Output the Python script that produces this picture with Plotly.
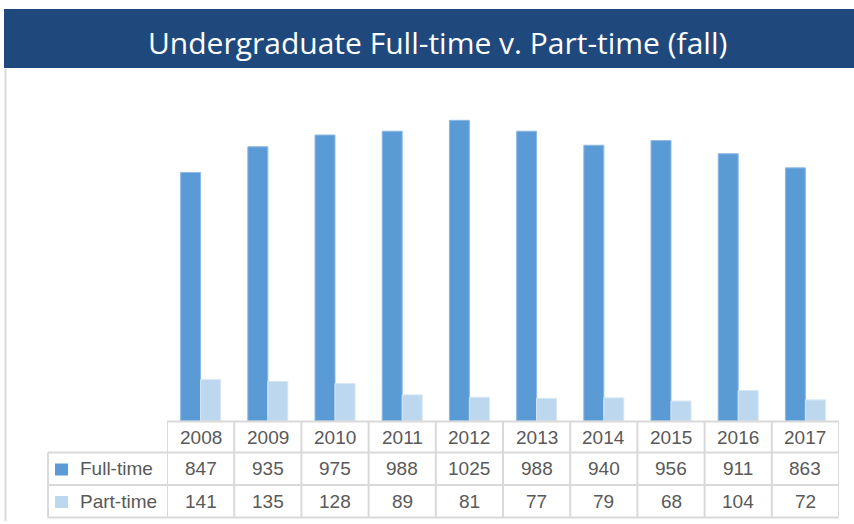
import plotly.graph_objects as go

years = ["2008", "2009", "2010", "2011", "2012", "2013", "2014", "2015", "2016", "2017"]
full_time = [847, 935, 975, 988, 1025, 988, 940, 956, 911, 863]
part_time = [141, 135, 128, 89, 81, 77, 79, 68, 104, 72]
series_names = ["Full-time", "Part-time"]
title_text = "Undergraduate Full-time v. Part-time (fall)"

W, H = 854, 524
ML, MR, MT, MB = 167, 15, 69, 103
PW, PH = W - ML - MR, H - MT - MB

def px(xp):
    return (xp - ML) / PW

def py(yp):
    return (H - MB - yp) / PH

c_full = "#5B9BD5"
c_part = "#BDD7EE"
grid_c = "#D9D9D9"
txt_c = "#595959"
font_fam = "Liberation Sans"

fig = go.Figure()
fig.add_trace(go.Bar(x=years, y=full_time, name=series_names[0], marker=dict(color=c_full, line=dict(color="#8DB9E3", width=1))))
fig.add_trace(go.Bar(x=years, y=part_time, name=series_names[1], marker=dict(color=c_part, line=dict(color="#D6E6F5", width=1))))

shapes = []
ann = []
shapes.append(dict(type="rect", xref="paper", yref="paper", x0=px(4), x1=px(854), y0=py(68), y1=py(9),
                   fillcolor="#1F497D", line=dict(width=0), layer="below"))
ann.append(dict(text=title_text, xref="paper", yref="paper", x=px(437), y=py(42), showarrow=False,
                font=dict(color="white", size=30, family="Open Sans"), xanchor="center", yanchor="middle"))
shapes.append(dict(type="line", xref="paper", yref="paper", x0=px(5.5), x1=px(5.5), y0=py(69), y1=py(521),
                   line=dict(color=grid_c, width=2)))

n = len(years)
row_y = [421.5, 452.5, 485, 517.5]
lw = 2
shapes.append(dict(type="line", xref="x", yref="paper", x0=-0.5, x1=n - 0.5, y0=py(row_y[0]), y1=py(row_y[0]), line=dict(color=grid_c, width=lw)))
for r in row_y[1:]:
    shapes.append(dict(type="line", xref="paper", yref="paper", x0=px(48), x1=px(ML), y0=py(r), y1=py(r), line=dict(color=grid_c, width=lw)))
    shapes.append(dict(type="line", xref="x", yref="paper", x0=-0.5, x1=n - 0.5, y0=py(r), y1=py(r), line=dict(color=grid_c, width=lw)))
for i in range(n + 1):
    shapes.append(dict(type="line", xref="x", yref="paper", x0=i - 0.5, x1=i - 0.5, y0=py(row_y[0]), y1=py(row_y[3]), line=dict(color=grid_c, width=lw)))
shapes.append(dict(type="line", xref="paper", yref="paper", x0=px(48), x1=px(48), y0=py(row_y[1]), y1=py(row_y[3]), line=dict(color=grid_c, width=lw)))

for cy, col in [(469.5, c_full), (502, c_part)]:
    shapes.append(dict(type="rect", xref="paper", yref="paper", x0=px(55), x1=px(68), y0=py(cy + 6), y1=py(cy - 6),
                       fillcolor=col, line=dict(width=0)))
for cy, name in [(469, series_names[0]), (501, series_names[1])]:
    ann.append(dict(text=name, xref="paper", yref="paper", x=px(78), y=py(cy), showarrow=False, xanchor="left", yanchor="middle",
                    font=dict(color=txt_c, size=19, family=font_fam)))

fnt = dict(color=txt_c, size=19, family=font_fam)
for i, yr in enumerate(years):
    ann.append(dict(text=yr, xref="x", yref="paper", x=i, y=py(437.5), showarrow=False, yanchor="middle", font=fnt))
    ann.append(dict(text=str(full_time[i]), xref="x", yref="paper", x=i, y=py(469), showarrow=False, yanchor="middle", font=fnt))
    ann.append(dict(text=str(part_time[i]), xref="x", yref="paper", x=i, y=py(501), showarrow=False, yanchor="middle", font=fnt))

fig.update_layout(
    width=W, height=H, margin=dict(l=ML, r=MR, t=MT, b=MB),
    paper_bgcolor="white", plot_bgcolor="white",
    barmode="group", bargap=0.405, bargroupgap=0,
    showlegend=False,
    xaxis=dict(type="category", range=[-0.5, n - 0.5], showticklabels=False, showgrid=False, zeroline=False, showline=False, ticks=""),
    yaxis=dict(range=[0, 1200], showticklabels=False, showgrid=False, zeroline=False, showline=False, fixedrange=True),
    shapes=shapes, annotations=ann,
)

fig.write_html("out.html", config={"displayModeBar": False},
               post_script="document.body.style.margin='0';document.body.style.overflow='hidden';")
